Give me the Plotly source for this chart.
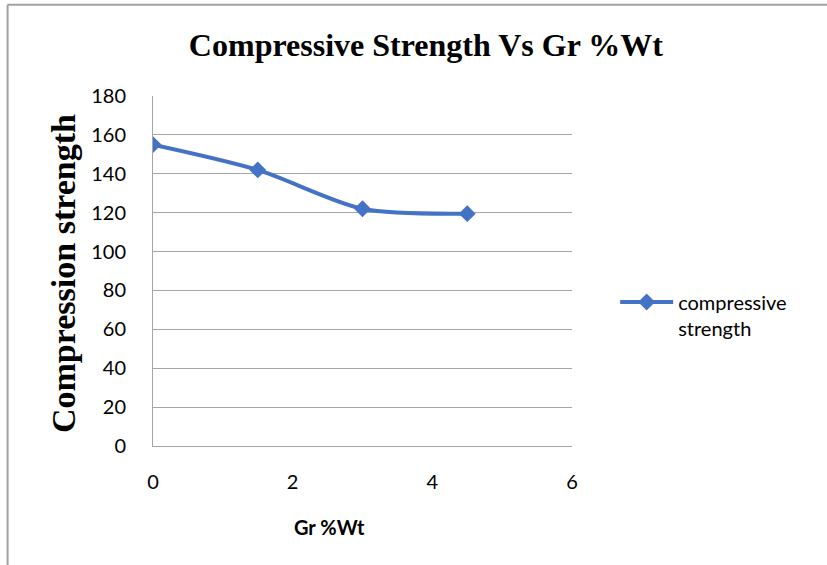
import plotly.graph_objects as go

# Graphite content (wt %) and measured compressive strength
gr_wt = [0, 1.5, 3, 4.5]
strength = [155, 142, 122, 119.5]

x_ticks = [0, 2, 4, 6]
y_ticks = [0, 20, 40, 60, 80, 100, 120, 140, 160, 180]

BLUE = "#4472C4"
GRID = "#A6A6A6"
SANS = "Lato, Open Sans, sans-serif"
SERIF = "Liberation Serif, Times New Roman, serif"
TICK_FONT = dict(family=SANS, size=20, color="#000000")

fig = go.Figure()
fig.add_trace(go.Scatter(
    x=gr_wt, y=strength,
    mode="lines+markers",
    name="compressive<br>strength",
    line=dict(color=BLUE, width=4, shape="spline", smoothing=0.8),
    marker=dict(symbol="diamond", size=13, color=BLUE),
))

fig.update_layout(
    width=827, height=565,
    margin=dict(l=153, r=255, t=96, b=119),
    paper_bgcolor="white", plot_bgcolor="white",
    title=dict(
        text="<b>Compressive Strength Vs Gr %Wt</b>",
        font=dict(family=SERIF, size=32, color="#000000"),
        x=0.515, xanchor="center", y=0.92, yanchor="middle",
    ),
    showlegend=True,
    legend=dict(
        x=1.103, xanchor="left", y=0.467, yanchor="top",
        font=dict(family=SANS, size=20, color="#000000"),
        valign="top", bgcolor="rgba(0,0,0,0)", itemwidth=53,
    ),
    annotations=[
        dict(text="<b>Gr %Wt</b>", xref="x", yref="paper", x=2.53, y=-0.232,
             xanchor="center", yanchor="middle", showarrow=False,
             font=dict(family=SANS, size=20, color="#000000")),
        dict(text="<b>Compression strength</b>", xref="paper", yref="paper",
             x=-0.215, y=0.494, xanchor="center", yanchor="middle", textangle=-90,
             showarrow=False, font=dict(family=SERIF, size=34, color="#000000")),
    ],
    shapes=[
        dict(type="line", xref="paper", yref="paper", x0=-0.347, x1=1.61, y0=1.261, y1=1.261,
             line=dict(color="#A0A0A0", width=2)),
        dict(type="line", xref="paper", yref="paper", x0=-0.347, x1=-0.347, y0=1.261, y1=-0.36,
             line=dict(color="#A0A0A0", width=2)),
    ],
)

fig.update_xaxes(
    range=[0, 6], tickvals=x_ticks, ticktext=[str(v) for v in x_ticks],
    showgrid=False, zeroline=False,
    showline=True, linecolor=GRID, linewidth=1,
    ticks="", tickfont=TICK_FONT, ticklabelstandoff=18,
)
fig.update_yaxes(
    range=[0, 180], tickvals=y_ticks, ticktext=[str(v) for v in y_ticks],
    showgrid=True, gridcolor=GRID, gridwidth=1, zeroline=False,
    showline=True, linecolor=GRID, linewidth=1,
    ticks="", tickfont=TICK_FONT, ticklabelstandoff=22,
)

fig.write_html("out.html")
